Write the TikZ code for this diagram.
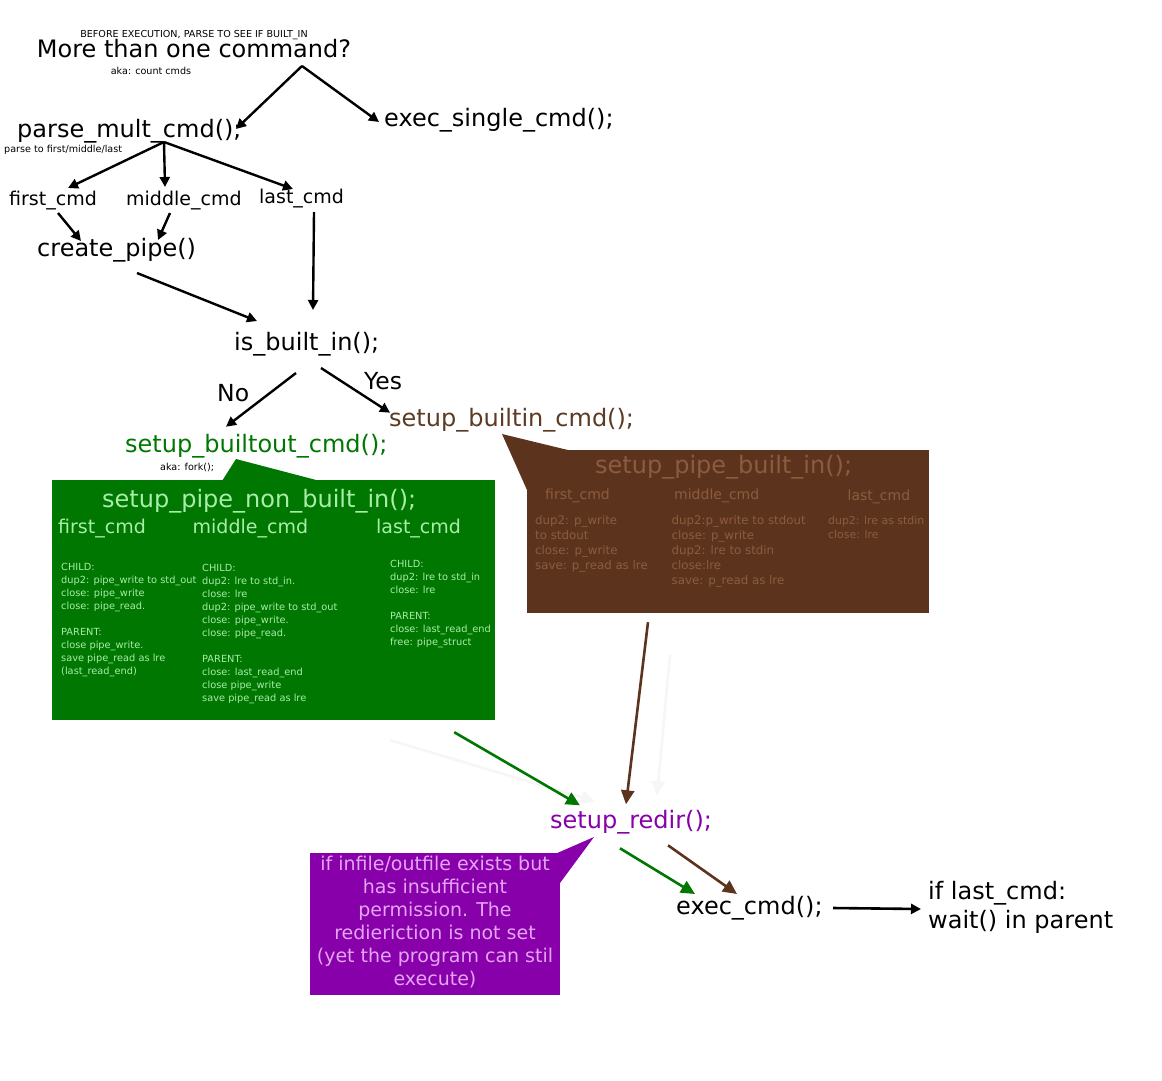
\documentclass[tikz,border=0pt]{standalone}
\usepackage{fontspec}
\setmainfont{DejaVu Sans}
\usetikzlibrary{arrows.meta}
\definecolor{gfill}{RGB}{0,119,0}
\definecolor{gtext}{RGB}{168,238,168}
\definecolor{bfill}{RGB}{92,52,30}
\definecolor{btext}{RGB}{140,92,62}
\definecolor{bout}{RGB}{92,58,36}
\definecolor{pfill}{RGB}{136,0,170}
\definecolor{ptext}{RGB}{228,164,244}
\definecolor{ghost}{RGB}{246,246,246}
\tikzset{
  lbl/.style={inner sep=0pt, anchor=base west},
  clbl/.style={inner sep=0pt, anchor=base},
  fxxiv/.style={font=\fontsize{24}{29}\selectfont},
  fxxiii/.style={font=\fontsize{23.5}{28}\selectfont},
  fxix/.style={font=\fontsize{19}{23}\selectfont},
  fxiv/.style={font=\fontsize{14}{17}\selectfont},
  fxii/.style={font=\fontsize{11.8}{15}\selectfont},
  fxi/.style={font=\fontsize{10.9}{14.3}\selectfont},
  fx/.style={font=\fontsize{9.8}{13}\selectfont},
  fnote/.style={font=\fontsize{9.6}{12}\selectfont},
  arr/.style={line width=2.4pt, -{Triangle[length=10pt,width=10pt]}},
  carr/.style={line width=2.6pt, -{Triangle[length=14pt,width=13pt]}},
  boxnode/.style={inner sep=0pt, draw=none},
}
\begin{document}
\begin{tikzpicture}[x=1pt,y=-1pt]
\useasboundingbox[fill=white] (0,0) rectangle (1162,1080);

% boxes
\fill[gfill] (222,481) -- (236,459) -- (320,481) -- cycle;
\node[boxnode, fill=gfill, minimum width=443pt, minimum height=240pt] (gbox) at (273.5,600) {};
\fill[bfill] (502,434) -- (572,451) -- (527,490) -- cycle;
\node[boxnode, fill=bfill, minimum width=402pt, minimum height=163pt] (bbox) at (728,531.5) {};
\fill[pfill] (555,854) -- (594,837) -- (560,883) -- cycle;
\node[boxnode, fill=pfill, minimum width=250pt, minimum height=142pt] (pbox) at (435,924) {};

% top texts
\node[clbl, fnote] (before) at (194,37) {BEFORE EXECUTION, PARSE TO SEE IF BUILT\_IN};
\node[clbl, fxxiv] (more) at (194,57) {More than one command?};
\node[clbl, fnote] (aka1) at (151,74) {aka: count cmds};
\node[lbl, fxxiv] (parse) at (17,137) {parse\_mult\_cmd();};
\node[lbl, fnote] (pnote) at (4,152) {parse to first/middle/last};
\node[lbl, fxxiv] (single) at (384,126) {exec\_single\_cmd();};
\node[lbl, fxix] (first) at (9,205) {first\_cmd};
\node[lbl, fxix] (middle) at (126,205) {middle\_cmd};
\node[lbl, fxix] (last) at (259,203) {last\_cmd};
\node[lbl, fxxiv] (pipe) at (37,256) {create\_pipe()};
\node[lbl, fxxiv] (isb) at (234,350) {is\_built\_in();};
\node[lbl, fxxiii] (no) at (217,401.7) {No};
\node[lbl, fxxiii] (yes) at (364,389) {Yes};
\node[lbl, fxxiv, text=bout] (bin) at (389,426.7) {setup\_builtin\_cmd();};
\node[lbl, fxxiv, text=gfill] (bouttxt) at (125,452.7) {setup\_builtout\_cmd();};
\node[lbl, fnote] (fork) at (160,470.7) {aka: fork();};

% green box content (base = last line)
\node[lbl, fxxiv, text=gtext] (gtitle) at (102,507) {setup\_pipe\_non\_built\_in();};
\node[lbl, fxix, text=gtext] (gh1) at (58,533) {first\_cmd};
\node[lbl, fxix, text=gtext] (gh2) at (192.5,533) {middle\_cmd};
\node[lbl, fxix, text=gtext] (gh3) at (376,533) {last\_cmd};
\node[lbl, fx, text=gtext, align=left] (gc1) at (61,674.7) {CHILD:\\dup2: pipe\_write to std\_out\\close: pipe\_write\\close: pipe\_read.\\[13pt]PARENT:\\close pipe\_write.\\save pipe\_read as lre\\(last\_read\_end)};
\node[lbl, fx, text=gtext, align=left] (gc2) at (202,701.3) {CHILD:\\dup2: lre to std\_in.\\close: lre\\dup2: pipe\_write to std\_out\\close: pipe\_write.\\close: pipe\_read.\\[13pt]PARENT:\\close: last\_read\_end\\close pipe\_write\\save pipe\_read as lre};
\node[lbl, fx, text=gtext, align=left] (gc3) at (390,645.3) {CHILD:\\dup2: lre to std\_in\\close: lre\\[13pt]PARENT:\\close: last\_read\_end\\free: pipe\_struct};

% brown box content
\node[lbl, fxxiv, text=btext] (btitle) at (595,473.3) {setup\_pipe\_built\_in();};
\node[lbl, fxiv, text=btext] (bh1) at (545,499.3) {first\_cmd};
\node[lbl, fxiv, text=btext] (bh2) at (674,499.3) {middle\_cmd};
\node[lbl, fxiv, text=btext] (bh3) at (847.5,500) {last\_cmd};
\node[lbl, fxii, text=btext, align=left] (bc1) at (535,569) {dup2: p\_write\\to stdout\\close: p\_write\\save: p\_read as lre};
\node[lbl, fxii, text=btext, align=left] (bc2) at (671.5,584) {dup2:p\_write to stdout\\close: p\_write\\dup2: lre to stdin\\close:lre\\save: p\_read as lre};
\node[lbl, fxi, text=btext, align=left] (bc3) at (828,538.3) {dup2: lre as stdin\\close: lre};

% purple
\node[clbl, fxix, text=ptext, align=center] (ptxt) at (435,985) {if infile/outfile exists but\\has insufficient\\permission. The\\redieriction is not set\\(yet the program can stil\\execute)};
\node[lbl, fxxiv, text=pfill] (redir) at (550,828.3) {setup\_redir();};
\node[lbl, fxxiv] (exec) at (676,914) {exec\_cmd();};
\node[lbl, fxxiv, align=left] (wait) at (928,928) {if last\_cmd:\\wait() in parent};

% connectors
\draw[arr] ([shift={(108,9)}]more.base) -- ([shift={(219,-8)}]parse.base west);
\draw[arr] ([shift={(108,9)}]more.base) -- ([shift={(-5,-4)}]single.base west);
\draw[arr] ([shift={(147,5)}]parse.base west) -- ([shift={(59,-17)}]first.base west);
\draw[arr] ([shift={(147,5)}]parse.base west) -- ([shift={(39,-18)}]middle.base west);
\draw[arr] ([shift={(147,5)}]parse.base west) -- ([shift={(34,-14)}]last.base west);
\draw[arr] ([shift={(49,8)}]first.base west) -- ([shift={(44,-15)}]pipe.base west);
\draw[arr] ([shift={(44,8)}]middle.base west) -- ([shift={(121,-16)}]pipe.base west);
\draw[arr] ([shift={(100,17)}]pipe.base west) -- ([shift={(23,-29)}]isb.base west);
\draw[arr] ([shift={(55,9)}]last.base west) -- ([shift={(79,-40)}]isb.base west);
\draw[arr] ([shift={(62,23)}]isb.base west) -- ([shift={(101,-26)}]bouttxt.base west);
\draw[arr] ([shift={(87,18)}]isb.base west) -- ([shift={(1,-14)}]bin.base west);

\draw[carr, ghost] ([shift={(-105,20)}]gbox.south east) -- ([shift={(45,-27)}]redir.base west);
\draw[carr, ghost] ([shift={(-58,42)}]bbox.south) -- ([shift={(107,-33)}]redir.base west);
\draw[carr, gfill] ([shift={(-41,12)}]gbox.south east) -- ([shift={(30,-23)}]redir.base west);
\draw[carr, bfill] ([shift={(-80,9)}]bbox.south) -- ([shift={(76,-24)}]redir.base west);
\draw[carr, gfill] ([shift={(70,20)}]redir.base west) -- ([shift={(19,-20)}]exec.base west);
\draw[carr, bfill] ([shift={(118,17)}]redir.base west) -- ([shift={(61,-20)}]exec.base west);
\draw[arr, line width=2.6pt] ([shift={(157,-6)}]exec.base west) -- ([shift={(-7,-19)}]wait.base west);
\end{tikzpicture}
\end{document}
